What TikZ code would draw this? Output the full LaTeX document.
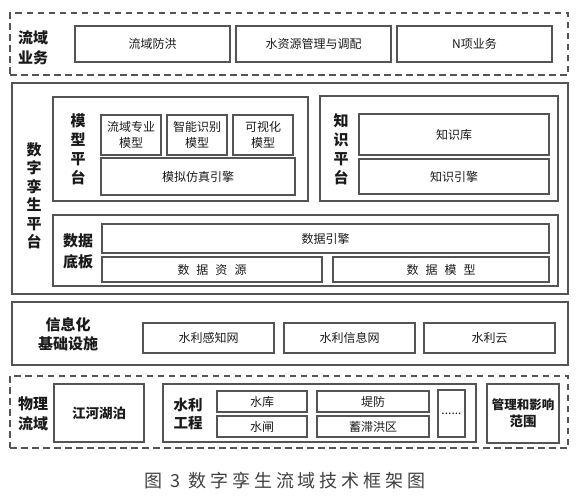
\documentclass[tikz,border=0pt]{standalone}
\usepackage{fontspec}
\setmainfont{Noto Sans CJK SC}
\definecolor{bd}{HTML}{545454}
\definecolor{tx}{HTML}{1A1A1A}
\newcommand{\bx}[7][box]{\node[#1, minimum width={(#5-#3)*1pt}, minimum height={(#6-#4)*1pt}] (#2) at ({(#3+#5)/2},{(#4+#6)/2}) {#7};}
\newcommand{\csp}{\hspace{7pt}}
\begin{document}
\begin{tikzpicture}[x=1pt,y=-1pt,
  box/.style={draw=bd, line width=1.2pt, inner sep=0pt, align=center, text=tx, font=\fontsize{12}{15.5}\selectfont},
  bbox/.style={box, font=\fontsize{13.5}{17}\bfseries\selectfont},
  dbox/.style={draw=bd, line width=1.2pt, dash pattern=on 6.5pt off 4.5pt, inner sep=0pt},
  lab/.style={font=\fontsize{15}{20}\bfseries\selectfont, align=center, inner sep=0pt, text=tx},
  vlab/.style={font=\fontsize{15}{18.5}\bfseries\selectfont, align=center, inner sep=0pt, text=tx}]
\useasboundingbox (0,0) rectangle (580,498);
% top: basin business
\bx[dbox]{bus}{10}{13}{568}{75}{}
\node[lab] (busl) at (33,48) {流域\\业务};
\bx{b1}{75}{26}{230}{62}{流域防洪}
\bx{b2}{236}{26}{391}{62}{水资源管理与调配}
\bx{b3}{397}{26}{552}{62}{N项业务}
% digital twin platform
\bx[box]{plat}{12}{83}{568}{294}{}
\node[vlab] (platl) at (34,196) {数\\字\\孪\\生\\平\\台};
\bx[box]{mp}{53}{97}{308}{201}{}
\node[vlab, font=\fontsize{15}{19}\bfseries\selectfont] (mpl) at (78,149) {模\\型\\平\\台};
\bx{m1}{101}{115}{161}{155}{流域专业\\模型}
\bx{m2}{167}{115}{227}{155}{智能识别\\模型}
\bx{m3}{233}{115}{293}{155}{可视化\\模型}
\bx{m4}{101}{158}{295}{195}{模拟仿真引擎}
\bx[box]{kp}{320}{96}{558}{201}{}
\node[vlab, font=\fontsize{15}{19}\bfseries\selectfont] (kpl) at (341,149) {知\\识\\平\\台};
\bx{k1}{359}{114}{549}{155}{知识库}
\bx{k2}{359}{159}{549}{194}{知识引擎}
\bx[box]{dp}{53}{215}{558}{286}{}
\node[lab, font=\fontsize{15}{21}\bfseries\selectfont] (dpl) at (78,251) {数据\\底板};
\bx{d1}{102}{224}{549}{253}{数据引擎}
\bx{d2}{102}{257}{322}{282}{数\csp 据\csp 资\csp 源}
\bx{d3}{333}{257}{549}{282}{数\csp 据\csp 模\csp 型}
% info infrastructure
\bx[box]{inf}{12}{302}{568}{365}{}
\node[lab, font=\fontsize{15}{19}\bfseries\selectfont] (infl) at (68,334) {信息化\\基础设施};
\bx{i1}{143}{323}{274}{353}{水利感知网}
\bx{i2}{284}{323}{415}{353}{水利信息网}
\bx{i3}{424}{323}{555}{353}{水利云}
% physical basin
\bx[dbox]{phy}{10}{376}{568}{448}{}
\node[lab] (phyl) at (33,414) {物理\\流域};
\bx[bbox]{p1}{54}{384}{144}{442}{江河湖泊}
\bx[box]{p2}{163}{384}{476}{442}{}
\node[lab, font=\fontsize{14.5}{18}\bfseries\selectfont] (p2l) at (188,414) {水利\\工程};
\bx{w1}{217}{391}{307}{412}{水库}
\bx{w2}{217}{416}{307}{437}{水闸}
\bx{w3}{317}{391}{429}{412}{堤防}
\bx{w4}{317}{416}{429}{437}{蓄滞洪区}
\bx{w5}{438}{390}{465}{437}{......}
\bx[bbox]{p3}{487}{384}{559}{443}{\fontsize{12.5}{17}\selectfont 管理和影响\\范围}
% caption
\node[inner sep=0pt, text=black!75, font=\fontsize{18}{20}\selectfont\addfontfeatures{LetterSpace=22}] (cap) at (285,481) {图 3 数字孪生流域技术框架图};
\end{tikzpicture}
\end{document}
